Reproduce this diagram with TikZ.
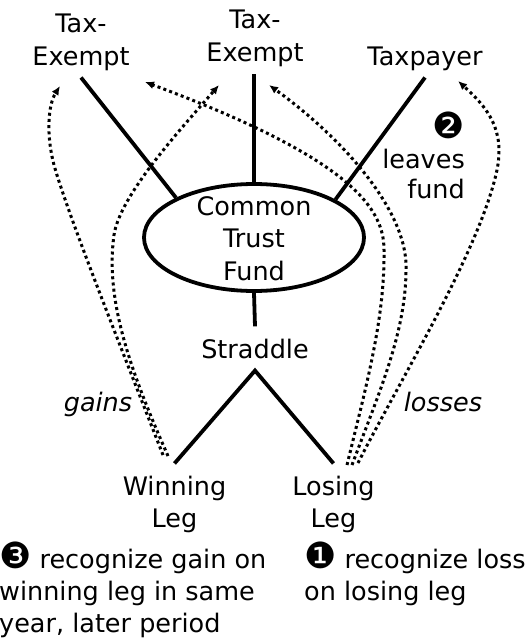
\documentclass[tikz,border=0pt]{standalone}
\usepackage{fontspec}
\setmainfont{DejaVu Sans}
\usetikzlibrary{arrows.meta,positioning,shapes.geometric}
\newcommand\circnum[1]{{\fontsize{36}{30}\selectfont#1}}

\begin{document}
\begin{tikzpicture}[x=1pt,y=-1pt,font=\fontsize{25.5}{33}\selectfont]
  \tikzstyle{party}=[anchor=base,align=center,inner sep=6pt]
  \tikzstyle{leg}=[anchor=base,align=center,inner sep=12pt,font=\fontsize{25.5}{32}\selectfont]
  \tikzstyle{note}=[anchor=base west,align=left,inner sep=0pt,font=\fontsize{25.5}{32}\selectfont]
  \tikzstyle{side}=[anchor=base,font=\fontsize{25.5}{33}\selectfont\itshape]
  \tikzstyle{link}=[line width=3.8pt]
  \tikzstyle{flow}=[line width=3pt,dash pattern=on 3pt off 3.2pt,-{Latex[length=9pt,width=8pt]}]
  \useasboundingbox (0,0) rectangle (531,642);
  % owners
  \node[party] (te1) at (81,66) {Tax-\\Exempt};
  \node[party] (te2) at (255,62) {Tax-\\Exempt};
  \node[party] (tp) at (425,66) {Taxpayer};
  % fund and straddle
  \node[draw,ellipse,link,minimum width=220pt,minimum height=107pt,inner sep=0pt] (ctf) at (254,237.5) {};
  \node[anchor=base,align=center,font=\fontsize{25.5}{32.5}\selectfont] (ctftext) at (254,280) {Common\\Trust\\Fund};
  \node[leg] (str) at (255,358) {Straddle};
  \node[leg] (wl) at (174.5,527) {Winning\\Leg};
  \node[leg] (ll) at (333.5,527) {Losing\\Leg};
  \draw[link] (te1.south) -- (ctf.153);
  \draw[link] (ctf.north) -- (ctf.north |- te2.south);
  \draw[link] (tp.south) -- (ctf.25);
  \draw[link] (ctf.south) -- (str.north);
  \draw[link] (wl.north) -- (str.south) -- (ll.north);
  % allocations
  \coordinate (wlA) at (163,455);
  \coordinate (wlB) at (168,456);
  \coordinate (llA) at (347,465);
  \coordinate (llB) at (352,465);
  \coordinate (llC) at (358,463);
  \coordinate (te1L) at (60,86);
  \coordinate (te1R) at (145,82);
  \coordinate (te2L) at (219,85);
  \coordinate (te2R) at (269,85);
  \coordinate (tpR) at (458,81);
  \draw[flow] (wlA) .. controls (120,345) and (68,215) .. (54,165) .. controls (46,135) and (48,105) .. (te1L);
  \draw[flow] (wlB) .. controls (130,370) and (105,300) .. (114,235) .. controls (120,195) and (180,130) .. (te2L);
  \draw[flow] (llA) .. controls (365,390) and (385,320) .. (384,250) .. controls (384,210) and (355,160) .. (te1R);
  \draw[flow] (llB) .. controls (380,390) and (407,330) .. (406,265) .. controls (405,210) and (345,140) .. (te2R);
  \draw[flow] (llC) .. controls (400,380) and (480,250) .. (497,170) .. controls (505,130) and (488,108) .. (tpR);
  \node[side] (gains) at (98,411) {gains};
  \node[side] (losses) at (443,411) {losses};
  % steps
  \node[anchor=base east,align=right,inner sep=0pt,font=\fontsize{25.5}{30}\selectfont] (leave) at (465,198) {\circnum{❷}\\leaves\\fund};
  \node[note] (gainnote) at (-1,632) {\circnum{❸} recognize gain on\\winning leg in same\\year, later period};
  \node[note] (lossnote) at (304,600) {\circnum{❶} recognize loss\\on losing leg};
\end{tikzpicture}
\end{document}
